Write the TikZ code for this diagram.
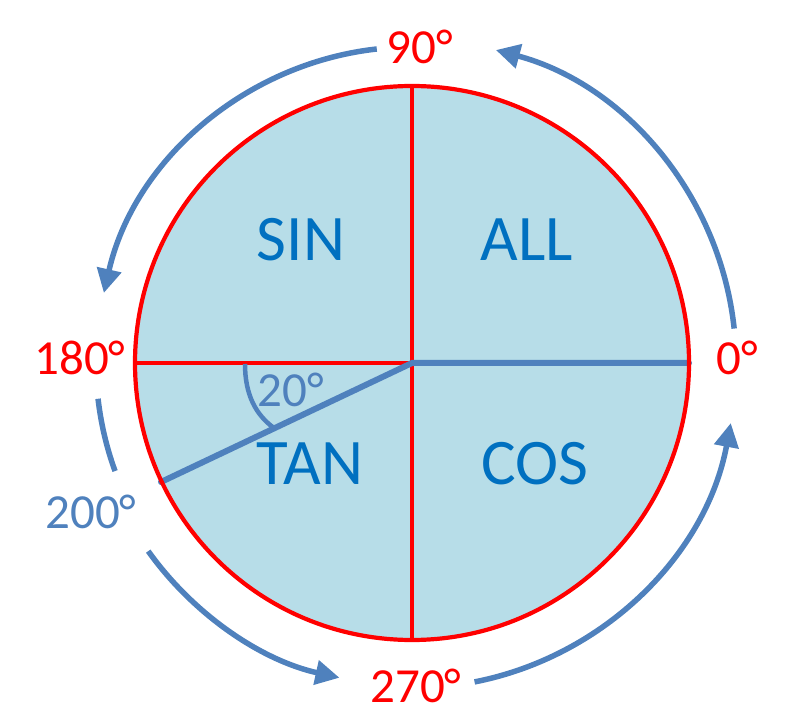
\documentclass[tikz,border=0pt]{standalone}
\usepackage{fontspec}
\setmainfont{Carlito}
\usetikzlibrary{arrows.meta,calc}
\definecolor{fillblue}{HTML}{B7DDE8}
\definecolor{lineblue}{HTML}{4F81BD}
\definecolor{textblue}{HTML}{0070C0}
\definecolor{pured}{HTML}{FF0000}
\tikzset{
  quad/.style={text=textblue,font=\fontsize{65}{65}\selectfont,inner sep=0pt,anchor=base},
  deg/.style={text=pured,font=\fontsize{49}{49}\selectfont,inner sep=0pt,anchor=base},
  degb/.style={deg,text=lineblue},
  redline/.style={draw=pured,line width=4.5pt},
  radius line/.style={draw=lineblue,line width=6pt},
  turn/.style={draw=lineblue,line width=5.5pt,-{Triangle[length=24pt,width=24pt]}},
  turnplain/.style={draw=lineblue,line width=5.5pt}
}
\begin{document}
\begin{tikzpicture}[x=1pt,y=1pt]
\useasboundingbox (0,0) rectangle (792,723);
\coordinate (O) at (412,360);
\coordinate (T) at (412,636);
\coordinate (B) at (412,83);
\coordinate (L) at (135,360);
\coordinate (R) at (689,360);
\coordinate (P) at (161,241);
% disc
\fill[fillblue] (O) circle[radius=277pt];
% red axes
\draw[redline] (T) -- (B);
\draw[redline] (L) -- (O);
% blue radius lines
\draw[radius line,line cap=round] (R) -- (O) -- (P);
% circle outline
\draw[draw=pured,line width=4.2pt] (O) circle[radius=277pt];
% angle marker
\coordinate (A1) at (245,359);
\coordinate (A2) at (274,295);
\draw[draw=lineblue,line width=4.5pt] (A1) .. controls (245,328) and (256,308) .. (A2);
% quadrant labels
\node[quad] (sin) at (301,462) {SIN};
\node[quad] (all) at (527,462) {ALL};
\node[quad] (tan) at (310,238) {TAN};
\node[quad] (cos) at (535,238) {COS};
% degree labels
\node[deg] (d90) at (420,659) {90°};
\node[deg] (d0) at (737,348) {0°};
\node[deg] (d180) at (80,348) {180°};
\node[deg] (d270) at (416,21) {270°};
\node[degb] (d200) at (91,194) {200°};
\node[degb] (d20) at (291,316) {20°};
% outer arrows
\draw[turn] ($(O)+(6.1:324pt)$) arc[start angle=6.1,end angle=75,radius=324pt];
\draw[turn] ($(O)+(96.4:316pt)$) arc[start angle=96.4,end angle=167.2,radius=316pt];
\draw[turnplain] ($(O)+(186.5:316pt)$) arc[start angle=186.5,end angle=200,radius=316pt];
\draw[turn] ($(O)+(215.5:324pt)$) arc[start angle=215.5,end angle=257.5,radius=320pt];
\draw[turn] ($(O)+(281.1:325pt)$) arc[start angle=281.1,end angle=349.5,radius=324pt];
\end{tikzpicture}
\end{document}
